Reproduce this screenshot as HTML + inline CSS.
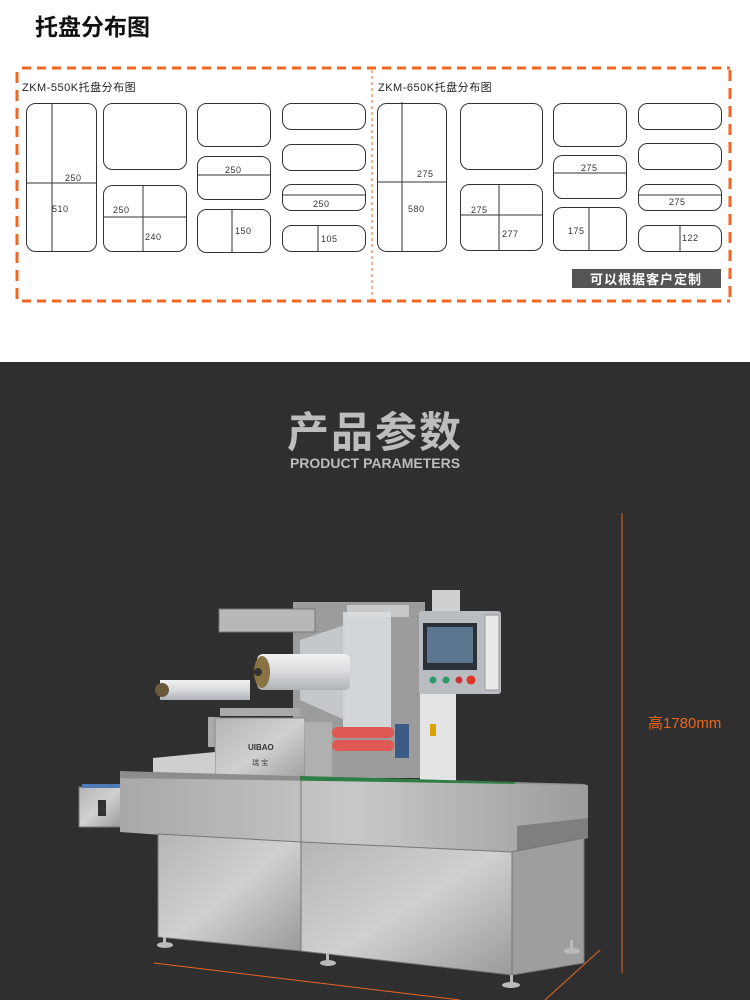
<!DOCTYPE html>
<html><head><meta charset="utf-8"><style>
html,body{margin:0;padding:0;}
body{width:750px;height:1000px;overflow:hidden;background:#fff;font-family:"Liberation Sans","Noto Sans CJK SC",sans-serif;}
</style></head><body>
<svg width="750" height="1000" viewBox="0 0 750 1000" xmlns="http://www.w3.org/2000/svg" style="display:block">
<defs>
<linearGradient id="steel" x1="0" y1="0" x2="1" y2="1">
<stop offset="0" stop-color="#b5b5b5"/><stop offset="0.5" stop-color="#d0d0d0"/><stop offset="1" stop-color="#9a9a9a"/></linearGradient>
<linearGradient id="steel2" x1="0" y1="0" x2="1" y2="0">
<stop offset="0" stop-color="#a8a8a8"/><stop offset="0.5" stop-color="#c8c8c8"/><stop offset="1" stop-color="#9c9c9c"/></linearGradient>
<linearGradient id="roll" x1="0" y1="0" x2="0" y2="1">
<stop offset="0" stop-color="#f2f2f2"/><stop offset="0.5" stop-color="#d8dadc"/><stop offset="1" stop-color="#aeb2b6"/></linearGradient>
</defs>
<rect width="750" height="362" fill="#fff"/>
<text x="35" y="35" font-size="23" font-weight="bold" fill="#111">托盘分布图</text>
<!-- dashed border -->
<g stroke="#f26522" fill="none">
<line x1="22" y1="68" x2="730" y2="68" stroke-width="3" stroke-dasharray="9,6"/>
<line x1="22" y1="301" x2="730" y2="301" stroke-width="3" stroke-dasharray="9,6"/>
<line x1="17" y1="72" x2="17" y2="300" stroke-width="3" stroke-dasharray="11,7"/>
<line x1="730" y1="70" x2="730" y2="300" stroke-width="3" stroke-dasharray="11,7"/>
<line x1="372" y1="70" x2="372" y2="300" stroke-width="1" stroke-dasharray="3,3"/>
</g>
<g font-size="11" fill="#222" letter-spacing="0.5">
<text x="22" y="91">ZKM-550K托盘分布图</text>
<text x="378" y="91">ZKM-650K托盘分布图</text>
</g>
<g stroke="#333" stroke-width="1" fill="none">
<!-- left -->
<rect x="26.5" y="103.5" width="70" height="148" rx="9"/><line x1="52" y1="104" x2="52" y2="251"/><line x1="27" y1="183" x2="96" y2="183"/>
<rect x="103.5" y="103.5" width="83" height="66" rx="9"/>
<rect x="103.5" y="185.5" width="83" height="66" rx="9"/><line x1="143" y1="186" x2="143" y2="251"/><line x1="104" y1="217" x2="186" y2="217"/>
<rect x="197.5" y="103.5" width="73" height="43" rx="9"/>
<rect x="197.5" y="156.5" width="73" height="43" rx="9"/><line x1="198" y1="175" x2="270" y2="175"/>
<rect x="197.5" y="209.5" width="73" height="43" rx="9"/><line x1="232" y1="210" x2="232" y2="252"/>
<rect x="282.5" y="103.5" width="83" height="26" rx="9"/>
<rect x="282.5" y="144.5" width="83" height="26" rx="9"/>
<rect x="282.5" y="184.5" width="83" height="26" rx="9"/><line x1="283" y1="195" x2="365" y2="195"/>
<rect x="282.5" y="225.5" width="83" height="26" rx="9"/><line x1="318" y1="226" x2="318" y2="251"/>
<!-- right -->
<rect x="377.5" y="103.5" width="69" height="148" rx="9"/><line x1="402" y1="102" x2="402" y2="251"/><line x1="378" y1="182" x2="446" y2="182"/>
<rect x="460.5" y="103.5" width="82" height="66" rx="9"/>
<rect x="460.5" y="184.5" width="82" height="66" rx="9"/><line x1="499" y1="185" x2="499" y2="250"/><line x1="461" y1="215" x2="542" y2="215"/>
<rect x="553.5" y="103.5" width="73" height="43" rx="9"/>
<rect x="553.5" y="155.5" width="73" height="43" rx="9"/><line x1="554" y1="173" x2="626" y2="173"/>
<rect x="553.5" y="207.5" width="73" height="43" rx="9"/><line x1="589" y1="208" x2="589" y2="250"/>
<rect x="638.5" y="103.5" width="83" height="26" rx="9"/>
<rect x="638.5" y="143.5" width="83" height="26" rx="9"/>
<rect x="638.5" y="184.5" width="83" height="26" rx="9"/><line x1="639" y1="195" x2="721" y2="195"/>
<rect x="638.5" y="225.5" width="83" height="26" rx="9"/><line x1="680" y1="226" x2="680" y2="251"/>
</g>
<g font-size="9" fill="#333" letter-spacing="0.5">
<text x="65" y="181">250</text><text x="52" y="212">510</text>
<text x="113" y="213">250</text><text x="145" y="240">240</text>
<text x="225" y="173">250</text><text x="235" y="234">150</text>
<text x="313" y="207">250</text><text x="321" y="242">105</text>
<text x="417" y="177">275</text><text x="408" y="212">580</text>
<text x="471" y="213">275</text><text x="502" y="237">277</text>
<text x="581" y="171">275</text><text x="568" y="234">175</text>
<text x="669" y="205">275</text><text x="682" y="241">122</text>
</g>
<rect x="572" y="269" width="149" height="19" fill="#555"/>
<text x="646" y="284" font-size="13" font-weight="bold" fill="#fff" text-anchor="middle" letter-spacing="1">可以根据客户定制</text>

<!-- dark section -->
<rect x="0" y="362" width="750" height="638" fill="#2f2f2f"/>
<text x="375" y="447" font-size="42" font-weight="bold" fill="#bdbdbd" text-anchor="middle" letter-spacing="2">产品参数</text>
<text x="375" y="468" font-size="14" font-weight="bold" fill="#bdbdbd" text-anchor="middle">PRODUCT PARAMETERS</text>

<line x1="622" y1="513" x2="622" y2="973" stroke="#e8641f" stroke-width="1"/>
<text x="648" y="728" font-size="15" fill="#e8641f">高1780mm</text>
<line x1="154" y1="963" x2="460" y2="1000" stroke="#e8641f" stroke-width="1"/>
<line x1="600" y1="950" x2="545" y2="1000" stroke="#e8641f" stroke-width="1"/>

<!-- machine -->
<g>
<!-- upper back plate -->
<rect x="293" y="602" width="132" height="176" fill="#9c9c9c"/>
<rect x="219" y="609" width="96" height="23" fill="#b8b8b8" stroke="#777"/>
<rect x="347" y="605" width="62" height="12" fill="#c8c8c8"/>
<!-- film strip -->
<polygon points="343,612 391,612 391,735 343,735" fill="#d8dde0" opacity="0.9"/>
<polygon points="300,640 345,625 345,720 300,700" fill="#cfd3d6" opacity="0.8"/>
<!-- rolls -->
<rect x="160" y="680" width="90" height="20" fill="url(#roll)"/>
<circle cx="162" cy="690" r="7" fill="#6a5a3a"/>
<rect x="257" y="654" width="93" height="36" rx="6" fill="url(#roll)"/>
<ellipse cx="262" cy="672" rx="8" ry="16" fill="#8a7446"/>
<circle cx="258" cy="672" r="4" fill="#333"/>
<rect x="220" y="708" width="80" height="8" fill="#aaa"/>
<!-- column and panel -->
<rect x="420" y="690" width="36" height="92" fill="#e4e4e4"/>
<rect x="430" y="724" width="6" height="12" fill="#d9a400"/>
<rect x="432" y="590" width="28" height="22" fill="#cfcfcf"/>
<rect x="419" y="611" width="82" height="83" rx="3" fill="#b9bcc0"/>
<rect x="423" y="623" width="54" height="47" fill="#2a3038"/>
<rect x="427" y="627" width="46" height="36" fill="#5b7790"/>
<circle cx="433" cy="680" r="3.5" fill="#2b9a6b"/><circle cx="446" cy="680" r="3.5" fill="#2b9a6b"/><circle cx="459" cy="680" r="3.5" fill="#c33"/><circle cx="471" cy="680" r="4.5" fill="#d32"/>
<rect x="485" y="615" width="14" height="75" fill="#e8e8e8" stroke="#999"/>
<!-- red rollers -->
<rect x="332" y="727" width="62" height="11" rx="5" fill="#e05a55"/>
<rect x="332" y="740" width="62" height="11" rx="5" fill="#e05a55"/>
<rect x="395" y="724" width="14" height="34" fill="#3b5b86"/>
<!-- front cover -->
<rect x="208" y="717" width="12" height="30" fill="#aaa"/>
<rect x="215" y="718" width="90" height="68" fill="url(#steel)" stroke="#888"/>
<text x="248" y="750" font-size="8" font-weight="bold" fill="#333">UIBAO</text>
<text x="252" y="765" font-size="7" fill="#444">瑞 宝</text>
<rect x="305" y="722" width="27" height="60" fill="#b0b0b0"/>
<!-- left infeed -->
<polygon points="153,758 215,752 215,778 153,778" fill="#cfcfcf"/>
<rect x="79" y="787" width="42" height="40" fill="url(#steel)" stroke="#777"/>
<rect x="98" y="800" width="8" height="16" fill="#333"/>
<rect x="82" y="784" width="38" height="4" fill="#4f7ab8"/>
<!-- table -->
<polygon points="120,771 585,784 588,788 120,778" fill="#8d8d8d"/>
<polygon points="300,776 515,782 515,788 300,784" fill="#2e7d45"/>
<polygon points="120,778 588,785 588,838 517,860 120,832" fill="url(#steel2)"/>
<line x1="301" y1="780" x2="301" y2="842" stroke="#777"/>
<polygon points="517,826 588,818 588,838 517,860" fill="#7f7f7f"/>
<!-- cabinet -->
<polygon points="158,834 301,842 301,951 158,937" fill="url(#steel)" stroke="#777"/>
<polygon points="301,842 512,852 512,975 301,951" fill="url(#steel)" stroke="#777"/>
<polygon points="512,852 584,838 584,963 512,975" fill="#9e9e9e" stroke="#777"/>
<!-- feet -->
<g fill="#bbb"><rect x="163" y="937" width="3" height="8"/><ellipse cx="165" cy="945" rx="8" ry="3"/>
<rect x="326" y="953" width="3" height="10"/><ellipse cx="328" cy="963" rx="8" ry="3"/>
<rect x="510" y="975" width="3" height="10"/><ellipse cx="511" cy="985" rx="9" ry="3"/>
<rect x="570" y="940" width="3" height="10"/><ellipse cx="572" cy="951" rx="8" ry="3"/></g>
</g>
</svg>
</body></html>
